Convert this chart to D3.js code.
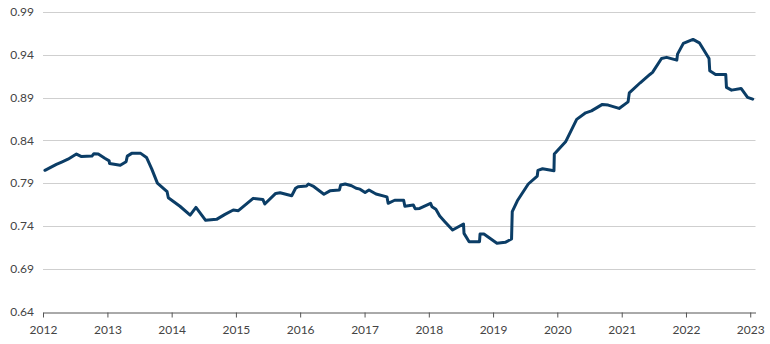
<!DOCTYPE html>
<html>
<head>
<meta charset="utf-8">
<script src="https://cdn.jsdelivr.net/npm/d3@7"></script>
<style>
  html, body { margin: 0; padding: 0; background: #fff; }
  svg { display: block; }
  text { font-family: Lato, "Open Sans", sans-serif; }
</style>
</head>
<body>
<svg id="chart" width="770" height="344"></svg>
<script>
const dates = ["2012-01-12","2012-03-17","2012-04-16","2012-05-22","2012-07-09","2012-08-07","2012-10-05","2012-10-16","2012-11-10","2012-12-17",
"2013-01-11","2013-01-13","2013-03-15","2013-04-17","2013-04-24","2013-05-19","2013-07-09","2013-08-11","2013-09-09","2013-10-12","2013-12-06","2013-12-13",
"2014-02-17","2014-04-16","2014-05-19","2014-07-13","2014-09-13","2014-10-31","2014-12-17",
"2015-01-15","2015-04-09","2015-06-03","2015-06-14","2015-08-15","2015-09-09","2015-11-14","2015-12-06","2015-12-20",
"2016-02-06","2016-02-17","2016-03-14","2016-05-15","2016-06-18","2016-08-11","2016-08-18","2016-09-13","2016-10-19","2016-11-14","2016-12-06",
"2017-01-04","2017-01-26","2017-03-07","2017-05-08","2017-05-15","2017-06-21","2017-08-11","2017-08-18","2017-10-05","2017-10-16","2017-11-10",
"2018-01-11","2018-01-19","2018-02-10","2018-03-04","2018-04-02","2018-05-16","2018-07-17","2018-07-20","2018-08-18","2018-10-16","2018-10-19","2018-11-10",
"2019-01-23","2019-03-11","2019-04-16","2019-04-20","2019-05-19","2019-07-20","2019-09-09","2019-09-13","2019-10-09","2019-12-13","2019-12-15",
"2020-02-17","2020-04-20","2020-06-10","2020-07-13","2020-09-13","2020-10-16","2020-12-17",
"2021-02-06","2021-02-13","2021-04-16","2021-06-10","2021-06-25","2021-08-15","2021-09-13","2021-11-10","2021-11-14","2021-12-17",
"2022-02-10","2022-03-18","2022-05-12","2022-05-16","2022-06-18","2022-08-15","2022-08-19","2022-09-17","2022-11-10","2022-12-17",
"2023-01-15"];
const values = [0.805,0.812,0.8147,0.818,0.824,0.821,0.8216,0.8244,0.824,0.819,
0.816,0.813,0.811,0.815,0.8216,0.8248,0.8248,0.820,0.807,0.790,0.780,0.773,
0.763,0.7527,0.7617,0.7465,0.7477,0.7535,0.7586,
0.7578,0.7722,0.771,0.7656,0.778,0.7788,0.7753,0.784,0.7858,
0.7866,0.789,0.7866,0.777,0.781,0.782,0.7878,0.789,0.787,0.784,0.783,
0.779,0.782,0.7773,0.774,0.7664,0.770,0.770,0.763,0.7644,0.760,0.7605,
0.7664,0.7624,0.7594,0.7515,0.745,0.7352,0.7422,0.7313,0.7215,0.7215,0.7305,0.7305,
0.7197,0.7208,0.7247,0.7566,0.7694,0.789,0.7983,0.805,0.8068,0.8045,0.824,
0.8383,0.8645,0.8722,0.8745,0.882,0.8812,0.8773,
0.885,0.8955,0.9073,0.917,0.9194,0.9357,0.937,0.9337,0.9408,0.9533,
0.958,0.954,0.9357,0.9213,0.917,0.917,0.9019,0.8987,0.9007,0.8902,
0.8882];
const yTicks = [0.64, 0.69, 0.74, 0.79, 0.84, 0.89, 0.94, 0.99];
const xTickYears = [2012,2013,2014,2015,2016,2017,2018,2019,2020,2021,2022,2023];

const parse = d3.timeParse("%Y-%m-%d");
const data = dates.map((d, i) => ({ date: parse(d), value: values[i] }));

const svg = d3.select("#chart");
const x = d3.scaleTime()
  .domain([new Date(2012, 0, 1), new Date(2023, 0, 31)])
  .range([43, 755.5]);
const y = d3.scaleLinear().domain([0.64, 0.99]).range([311.5, 12]);

// gridlines
svg.append("g")
  .selectAll("line")
  .data(yTicks.slice(1))
  .join("line")
  .attr("x1", x.range()[0]).attr("x2", x.range()[1])
  .attr("y1", d => Math.round(y(d)) + 0.5).attr("y2", d => Math.round(y(d)) + 0.5)
  .attr("stroke", "#cfcfcf").attr("stroke-width", 1);

// y labels
svg.append("g")
  .selectAll("text")
  .data(yTicks)
  .join("text")
  .attr("x", 34).attr("y", d => y(d))
  .attr("dy", "0.35em")
  .attr("text-anchor", "end")
  .attr("font-size", 12)
  .attr("fill", "#444")
  .text(d => d3.format(".2f")(d));

// x axis
const xAxis = d3.axisBottom(x)
  .tickValues(xTickYears.map(yv => new Date(yv, 0, 1)))
  .tickFormat(d3.timeFormat("%Y"))
  .tickSize(5)
  .tickSizeOuter(0)
  .tickPadding(8);
const gx = svg.append("g").attr("transform", `translate(0,${Math.round(y(0.64)) + 0.5})`).call(xAxis);
gx.select(".domain").attr("stroke", "#555");
gx.selectAll(".tick line").attr("stroke", "#555");
gx.selectAll(".tick text").attr("font-size", 12).attr("fill", "#444").attr("font-family", "Lato, 'Open Sans', sans-serif");

// line
const line = d3.line().x(d => x(d.date)).y(d => y(d.value));
svg.append("path")
  .datum(data)
  .attr("fill", "none")
  .attr("stroke", "#0b3d66")
  .attr("stroke-width", 3)
  .attr("stroke-linejoin", "round")
  .attr("stroke-linecap", "round")
  .attr("d", line);
</script>
</body>
</html>
